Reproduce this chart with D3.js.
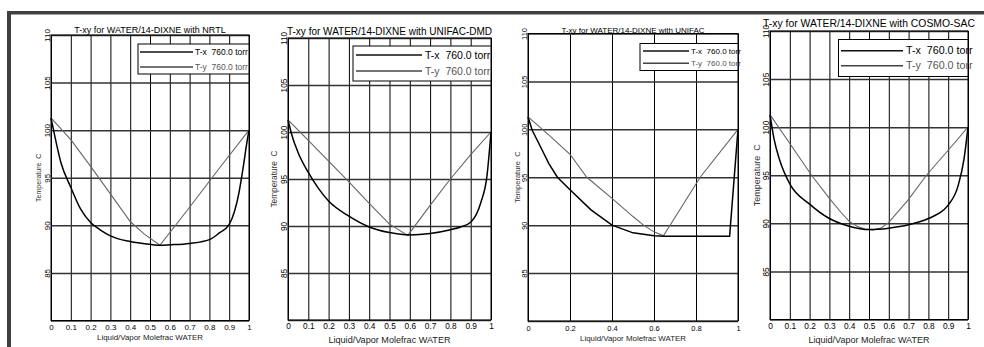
<!DOCTYPE html>
<html>
<head>
<meta charset="utf-8">
<script src="https://cdn.jsdelivr.net/npm/d3@7"></script>
<style>
  body { margin: 0; background: #fff; }
  svg { display: block; font-family: "Liberation Sans", Arial, sans-serif; }
  .leg text { white-space: pre; }
</style>
</head>
<body>
<div id="chart"></div>
<script>
// tick values / labels
const xTicksFine = [0, 0.1, 0.2, 0.3, 0.4, 0.5, 0.6, 0.7, 0.8, 0.9, 1];
const xLabelsFine = ["0", "0.1", "0.2", "0.3", "0.4", "0.5", "0.6", "0.7", "0.8", "0.9", "1"];
const xTicksCoarse = [0, 0.2, 0.4, 0.6, 0.8, 1];
const xLabelsCoarse = ["0", "0.2", "0.4", "0.6", "0.8", "1"];
const tempTicks = [80, 85, 90, 95, 100, 105, 110];
const tempLabels = ["", "85", "90", "95", "100", "105", "110"];

const methods = ["NRTL", "UNIFAC-DMD", "UNIFAC", "COSMO-SAC"];
const legendLabels = ["T-x  760.0 torr", "T-y  760.0 torr"];
const xTitle = "Liquid/Vapor Molefrac WATER";
const yTitle = "Temperature  C";

// NRTL
const nrtlLiqX = [0, 0.02, 0.05, 0.1, 0.15, 0.2, 0.25, 0.3, 0.4, 0.5, 0.55, 0.6, 0.7, 0.8, 0.85, 0.9, 0.95, 0.97, 0.99, 1];
const nrtlLiqT = [101.3, 99.3, 96.6, 94.0, 91.7, 90.3, 89.5, 88.9, 88.3, 88.0, 87.9, 87.95, 88.1, 88.5, 89.2, 90.1, 93.5, 96.0, 98.8, 100];
const nrtlVapY = [0, 0.1, 0.2, 0.3, 0.4, 0.47, 0.55, 0.7, 0.85, 1];
const nrtlVapT = [101.3, 99.0, 96.2, 93.3, 90.4, 89.1, 87.9, 91.9, 96.0, 100];

// UNIFAC-DMD
const dmdLiqX = [0, 0.02, 0.05, 0.1, 0.15, 0.2, 0.3, 0.4, 0.5, 0.6, 0.7, 0.8, 0.85, 0.9, 0.95, 0.98, 1];
const dmdLiqT = [101.3, 99.6, 97.8, 95.7, 94.0, 92.65, 91.05, 89.9, 89.3, 89.05, 89.2, 89.6, 89.9, 90.4, 92.5, 95.3, 100];
const dmdVapY = [0, 0.1, 0.2, 0.3, 0.4, 0.5, 0.59, 0.7, 0.8, 0.9, 1];
const dmdVapT = [101.3, 99.1, 96.9, 94.7, 92.4, 90.2, 89.0, 92.2, 95.0, 97.6, 100];

// UNIFAC
const unifacLiqX = [0, 0.02, 0.05, 0.1, 0.14, 0.2, 0.3, 0.4, 0.5, 0.6, 0.65, 0.96, 1];
const unifacLiqT = [101.3, 99.9, 98.6, 96.4, 95.0, 93.7, 91.6, 90.0, 89.2, 88.9, 88.85, 88.85, 100];
const unifacVapY = [0, 0.1, 0.2, 0.28, 0.4, 0.5, 0.55, 0.6, 0.645, 0.82, 1];
const unifacVapT = [101.3, 99.4, 97.4, 95.0, 92.8, 90.9, 90.0, 89.3, 88.9, 95.0, 100];

// COSMO-SAC
const cosmoLiqX = [0, 0.02, 0.05, 0.1, 0.2, 0.3, 0.4, 0.5, 0.6, 0.7, 0.8, 0.85, 0.9, 0.95, 0.98, 1];
const cosmoLiqT = [101.3, 98.8, 96.5, 94.1, 92.0, 90.5, 89.7, 89.35, 89.5, 89.85, 90.5, 91.0, 91.9, 93.9, 96.7, 100];
const cosmoVapY = [0, 0.1, 0.21, 0.3, 0.36, 0.4, 0.44, 0.48, 0.52, 0.56, 0.6, 0.7, 0.79, 0.9, 1];
const cosmoVapT = [101.3, 98.3, 95.0, 92.6, 91.1, 90.2, 89.7, 89.4, 89.3, 89.5, 90.1, 92.5, 95.0, 97.6, 100];

const W = 984, H = 347;
const svg = d3.select("#chart").append("svg").attr("width", W).attr("height", H);
svg.append("rect").attr("width", W).attr("height", H).attr("fill", "#fff");

// dark frame (top and left)
svg.append("rect").attr("x", 7).attr("y", 11).attr("width", W - 7).attr("height", 3.5).attr("fill", "#404040");
svg.append("rect").attr("x", 7).attr("y", 11).attr("width", 4).attr("height", H - 11).attr("fill", "#404040");

const panels = [
  { method: methods[0], liq: [nrtlLiqX, nrtlLiqT], vap: [nrtlVapY, nrtlVapT], ticks: xTicksFine, labels: xLabelsFine,
    box: { l: 51, r: 249, t: 35, b: 320.5 }, fs: { title: 9, tick: 8, xt: 7.9, yt: 7, leg: 8.5 },
    titleY: 33, xPad: 3.5, xTitleY: 340, yTitleX: 41,
    leg: { l: 138, t: 44, b: 74, lineL: 140, lineR: 193, textX: 195, y1: 52, y2: 67 }, smooth: true },
  { method: methods[1], liq: [dmdLiqX, dmdLiqT], vap: [dmdVapY, dmdVapT], ticks: xTicksFine, labels: xLabelsFine,
    box: { l: 288, r: 491, t: 38, b: 320 }, fs: { title: 10, tick: 8.3, xt: 9.1, yt: 8.3, leg: 10.5 },
    titleY: 35, xPad: 3.5, xTitleY: 343, yTitleX: 276.5,
    leg: { l: 353, t: 46, b: 81, lineL: 356, lineR: 422, textX: 425, y1: 55, y2: 71 }, smooth: true },
  { method: methods[2], liq: [unifacLiqX, unifacLiqT], vap: [unifacVapY, unifacVapT], ticks: xTicksCoarse, labels: xLabelsCoarse,
    box: { l: 528, r: 738, t: 33.5, b: 321 }, fs: { title: 8, tick: 7.5, xt: 7.9, yt: 7.5, leg: 8 },
    titleY: 33, xPad: 4.5, xTitleY: 341, yTitleX: 519.5,
    leg: { l: 640, t: 43.5, b: 70.5, lineL: 643, lineR: 689, textX: 691, y1: 51, y2: 63.3 }, smooth: false },
  { method: methods[3], liq: [cosmoLiqX, cosmoLiqT], vap: [cosmoVapY, cosmoVapT], ticks: xTicksFine, labels: xLabelsFine,
    box: { l: 770, r: 968, t: 31, b: 319.5 }, fs: { title: 10.4, tick: 8.3, xt: 9, yt: 9, leg: 10.7 },
    titleY: 27, xPad: 4, xTitleY: 342.5, yTitleX: 760,
    leg: { l: 838.5, t: 39.5, b: 76.5, lineL: 841, lineR: 903, textX: 906, y1: 50.7, y2: 65.7 }, smooth: true }
];

panels.forEach(function(p) {
  const b = p.box;
  const w = b.r - b.l, h = b.b - b.t;
  const x = d3.scaleLinear().domain([0, 1]).range([b.l, b.r]);
  const y = d3.scaleLinear().domain([80, 110]).range([b.b, b.t]);
  const g = svg.append("g");

  // vertical grid + x tick labels
  const xa = g.append("g").attr("transform", "translate(0," + b.b + ")")
    .call(d3.axisBottom(x).tickValues(p.ticks).tickSize(-h).tickPadding(p.xPad)
      .tickFormat(function(d, i) { return p.labels[i]; }));
  xa.select(".domain").remove();
  xa.selectAll("line").attr("stroke", "#000").attr("stroke-width", 1);
  xa.selectAll("text").attr("fill", "#000").attr("font-size", p.fs.tick).attr("font-family", null);

  // horizontal grid + rotated temperature labels
  const ya = g.append("g").attr("transform", "translate(" + b.l + ",0)")
    .call(d3.axisLeft(y).tickValues(tempTicks).tickSize(-w)
      .tickFormat(function(d, i) { return tempLabels[i]; }));
  ya.select(".domain").remove();
  ya.selectAll("line").attr("stroke", "#333").attr("stroke-width", 1.5);
  ya.selectAll("text").attr("fill", "#000").attr("font-size", p.fs.tick).attr("font-family", null)
    .attr("transform", "rotate(-90)").attr("x", 0).attr("y", -1).attr("dy", 0).attr("text-anchor", "middle");

  // frame
  g.append("rect").attr("x", b.l).attr("y", b.t).attr("width", w).attr("height", h)
    .attr("fill", "none").attr("stroke", "#000").attr("stroke-width", 1);

  // curves
  const mk = function(cols, curve) {
    return d3.line().x(function(d, i) { return x(cols[0][i]); }).y(function(d, i) { return y(cols[1][i]); }).curve(curve);
  };
  g.append("path").datum(p.vap[0]).attr("fill", "none").attr("stroke", "#666").attr("stroke-width", 1.1)
    .attr("d", mk(p.vap, d3.curveLinear));
  g.append("path").datum(p.liq[0]).attr("fill", "none").attr("stroke", "#000").attr("stroke-width", 1.5)
    .attr("d", mk(p.liq, p.smooth ? d3.curveMonotoneX : d3.curveLinear));

  // titles
  g.append("text").attr("x", (b.l + b.r) / 2).attr("y", p.titleY).attr("text-anchor", "middle")
    .attr("font-size", p.fs.title).attr("fill", "#000").text("T-xy for WATER/14-DIXNE with " + p.method);
  g.append("text").attr("x", (b.l + b.r) / 2).attr("y", p.xTitleY).attr("text-anchor", "middle")
    .attr("font-size", p.fs.xt).attr("fill", "#222").text(xTitle);
  g.append("text").attr("transform", "translate(" + p.yTitleX + "," + (b.t + b.b) / 2 + ") rotate(-90)")
    .attr("text-anchor", "middle").attr("font-size", p.fs.yt).attr("fill", "#333")
    .style("white-space", "pre").text(yTitle);

  // legend
  const L = p.leg;
  const lg = g.append("g").attr("class", "leg");
  lg.append("rect").attr("x", L.l).attr("y", L.t).attr("width", b.r - L.l).attr("height", L.b - L.t)
    .attr("fill", "#fff").attr("stroke", "#000").attr("stroke-width", 1);
  [[L.y1, "#111", "#000"], [L.y2, "#444", "#555"]].forEach(function(r, i) {
    lg.append("line").attr("x1", L.lineL).attr("x2", L.lineR).attr("y1", r[0]).attr("y2", r[0])
      .attr("stroke", r[1]).attr("stroke-width", 1.4);
    lg.append("text").attr("x", L.textX).attr("y", r[0]).attr("dy", "0.35em")
      .attr("font-size", p.fs.leg).attr("fill", r[2]).text(legendLabels[i]);
  });
});
</script>
</body>
</html>
